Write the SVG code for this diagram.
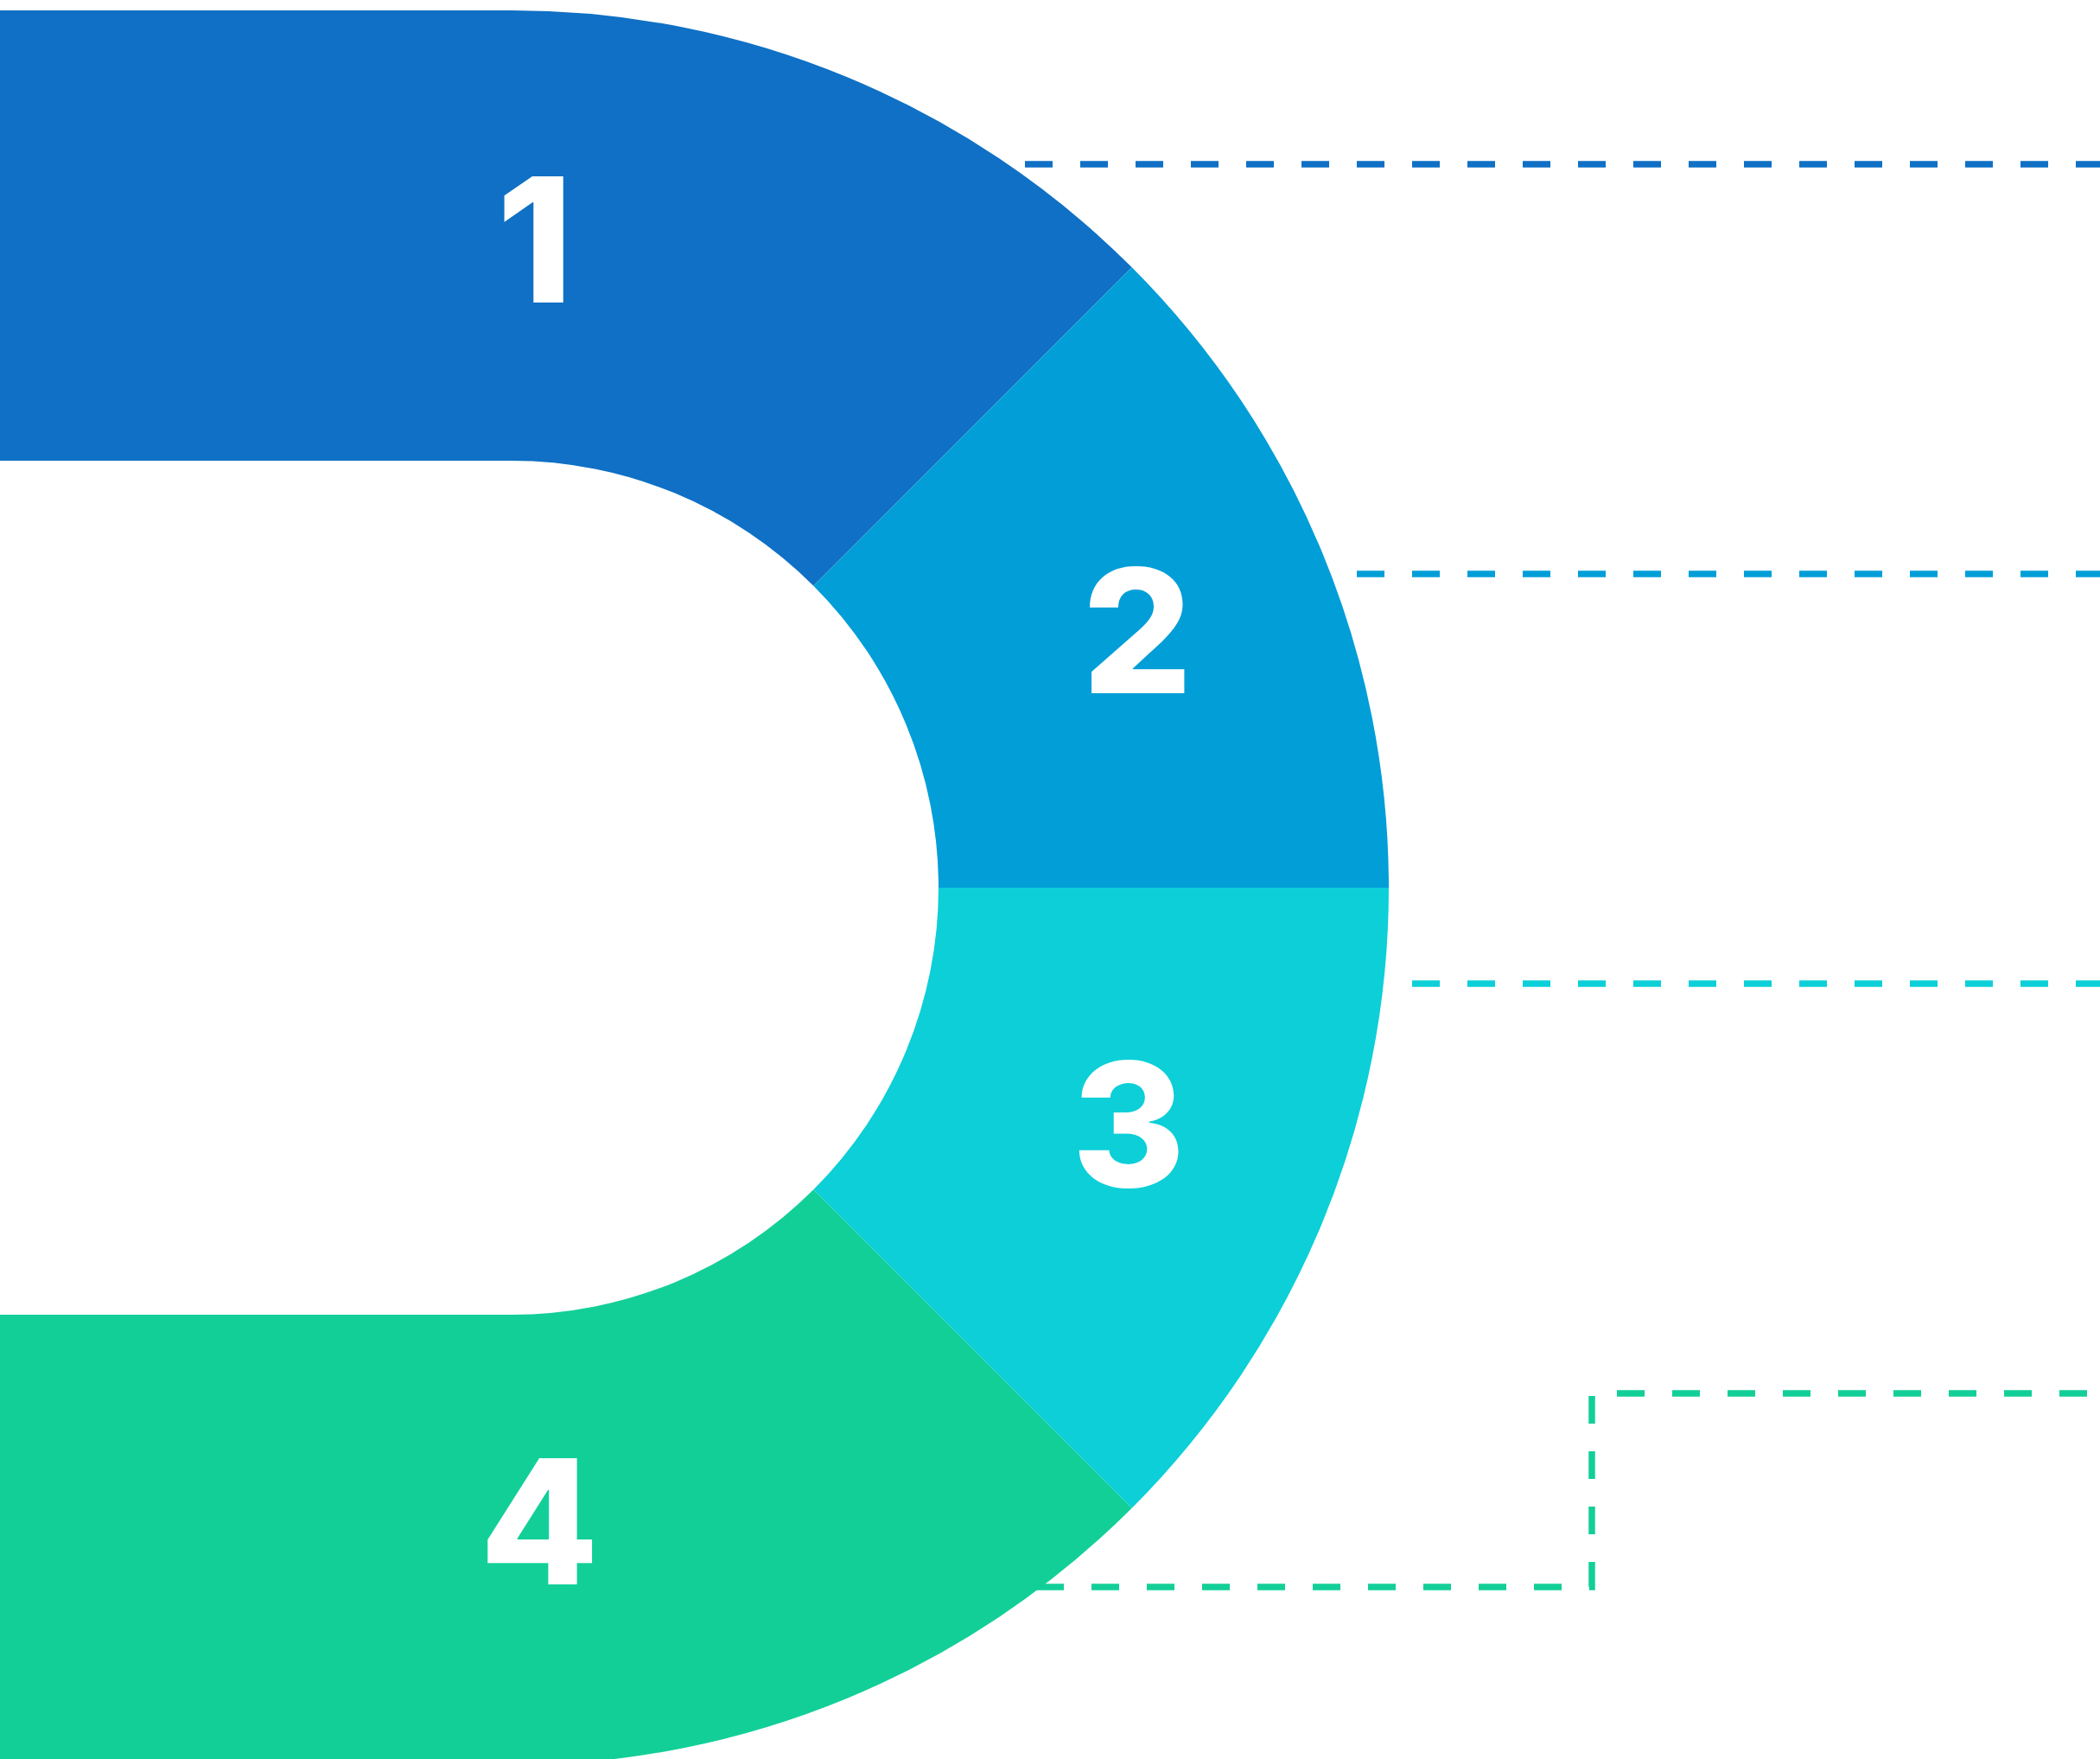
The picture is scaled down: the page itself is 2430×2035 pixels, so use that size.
<svg xmlns="http://www.w3.org/2000/svg" width="2430" height="2035" viewBox="0 0 2430 2035">
<style>
.lbl{font-family:Inter,"Liberation Sans",sans-serif;font-weight:800;font-size:200px;fill:#ffffff;text-anchor:middle}
.dash{fill:none;stroke-width:7.5;stroke-dasharray:32 32}
</style>
<rect width="2430" height="2035" fill="#ffffff"/>
<g id="connectors">
<path class="dash" stroke="#0F70C5" d="M1186 190 H2430"/>
<path class="dash" stroke="#029ED8" d="M1570 664 H2430"/>
<path class="dash" stroke="#0CCFD8" d="M1634 1138 H2430"/>
<path class="dash" stroke="#12CF98" d="M1199 1836 H1842 V1612 H2430"/>
</g>
<g id="node1">
<path fill="#0F70C5" d="M0 12 H592 A1015 1015 0 0 1 1309.7 309.3 L941.3 677.7 A494 494 0 0 0 592 533 H0 Z"/>
<text class="lbl" x="619" y="350">1</text>
</g>
<g id="node2">
<path fill="#029ED8" d="M1309.7 309.3 A1015 1015 0 0 1 1607 1027 H1086 A494 494 0 0 0 941.3 677.7 Z"/>
<text class="lbl" x="1316" y="802">2</text>
</g>
<g id="node3">
<path fill="#0CCFD8" d="M1607 1027 A1015 1015 0 0 1 1309.7 1744.7 L941.3 1376.3 A494 494 0 0 0 1086 1027 Z"/>
<text class="lbl" x="1306" y="1373">3</text>
</g>
<g id="node4">
<path fill="#12CF98" d="M1309.7 1744.7 A1015 1015 0 0 1 592 2042 H0 V1521 H592 A494 494 0 0 0 941.3 1376.3 Z"/>
<text class="lbl" x="624" y="1833">4</text>
</g>
</svg>
